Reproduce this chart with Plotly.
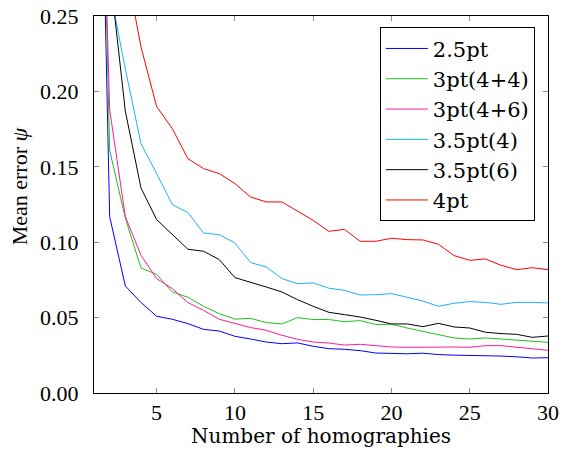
import plotly.graph_objects as go

homographies = list(range(1, 31))

err_2_5pt = [0.60, 0.117, 0.071, 0.060, 0.0509, 0.0489, 0.046, 0.0422, 0.0411, 0.0376,
             0.0358, 0.0338, 0.0327, 0.0332, 0.031, 0.0294, 0.029, 0.0281, 0.0265, 0.0261,
             0.026, 0.0264, 0.0255, 0.0251, 0.025, 0.0247, 0.0245, 0.024, 0.0232, 0.0234]
err_3pt_44 = [0.60, 0.161, 0.116, 0.0829, 0.0787, 0.067, 0.0635, 0.0575, 0.0526, 0.049,
              0.0495, 0.0467, 0.0458, 0.050, 0.0487, 0.0487, 0.0473, 0.048, 0.0454, 0.0456,
              0.0431, 0.0409, 0.0383, 0.0365, 0.0358, 0.0365, 0.0358, 0.035, 0.034, 0.0336]
err_3pt_46 = [0.55, 0.188, 0.117, 0.0913, 0.0759, 0.0692, 0.060, 0.0548, 0.0489, 0.046,
              0.0434, 0.0416, 0.0383, 0.0356, 0.0338, 0.0331, 0.0318, 0.0323, 0.0312, 0.0305,
              0.0303, 0.0305, 0.0307, 0.0305, 0.0303, 0.0314, 0.0314, 0.0305, 0.0294, 0.0283]
err_3_5pt_4 = [0.40, 0.268, 0.215, 0.1654, 0.1455, 0.125, 0.1196, 0.1061, 0.105, 0.0995,
               0.0865, 0.0836, 0.0759, 0.0725, 0.073, 0.0695, 0.0681, 0.065, 0.0652, 0.0659,
               0.0635, 0.061, 0.0575, 0.0595, 0.0606, 0.0601, 0.0588, 0.0601, 0.0601, 0.0597]
err_3_5pt_6 = [0.45, 0.28, 0.187, 0.136, 0.115, 0.105, 0.0953, 0.094, 0.0885, 0.0765,
               0.0736, 0.0703, 0.067, 0.0619, 0.0575, 0.0535, 0.052, 0.0504, 0.0482, 0.0458,
               0.0458, 0.044, 0.0462, 0.0438, 0.0431, 0.0403, 0.0394, 0.0389, 0.0369, 0.0378]
err_4pt = [0.45, 0.36, 0.285, 0.2295, 0.19, 0.1753, 0.1554, 0.1488, 0.1455, 0.1389,
           0.130, 0.1267, 0.1267, 0.1207, 0.1145, 0.1072, 0.1085, 0.1006, 0.1006, 0.1026,
           0.1017, 0.1015, 0.0986, 0.0911, 0.088, 0.0889, 0.0847, 0.0818, 0.0831, 0.0818]

series_names = ["2.5pt", "3pt(4+4)", "3pt(4+6)", "3.5pt(4)", "3.5pt(6)", "4pt"]
series_values = [err_2_5pt, err_3pt_44, err_3pt_46, err_3_5pt_4, err_3_5pt_6, err_4pt]
series_colors = ["#0000ff", "#1fc01f", "#ff1a9c", "#1ab4f0", "#000000", "#ff0000"]

x_ticks = [5, 10, 15, 20, 25, 30]
y_ticks = [0.0, 0.05, 0.10, 0.15, 0.20, 0.25]

FONT = "Liberation Serif, Times New Roman, serif"
WIDE = "DejaVu Serif, serif"

fig = go.Figure()
for name, vals, col in zip(series_names, series_values, series_colors):
    fig.add_trace(go.Scatter(x=homographies, y=vals, name=name, mode="lines",
                             line=dict(color=col, width=1)))

axis_common = dict(showline=True, linecolor="black", linewidth=1, mirror="ticks",
                   ticks="inside", ticklen=5, tickcolor="#8a8a8a", tickwidth=1,
                   showgrid=False, zeroline=False, automargin=False,
                   tickfont=dict(family=FONT, size=22, color="black"))

fig.update_layout(
    width=562, height=455,
    margin=dict(l=94, r=14, t=16, b=62, autoexpand=False),
    paper_bgcolor="white", plot_bgcolor="white",
    font=dict(family=FONT, size=22, color="black"),
    xaxis=dict(range=[1, 30], tickvals=x_ticks, ticktext=[str(v) for v in x_ticks],
               ticklabelstandoff=0, **axis_common),
    yaxis=dict(range=[0, 0.25], tickvals=y_ticks, ticktext=[f"{v:.2f}" for v in y_ticks],
               ticklabelstandoff=10, **axis_common),
    legend=dict(x=0.971, xanchor="right", y=0.970, yanchor="top",
                bgcolor="white", bordercolor="black", borderwidth=1,
                font=dict(family=WIDE, size=21, color="black"),
                itemwidth=42, tracegroupgap=0),
    showlegend=True,
    annotations=[
        dict(text="Number of homographies", xref="paper", yref="paper",
             x=0.5, y=-0.113, xanchor="center", yanchor="middle", showarrow=False,
             font=dict(family=WIDE, size=20, color="black")),
        dict(text="Mean error <i>ψ</i>", xref="paper", yref="paper",
             x=-0.164, y=0.547, xanchor="center", yanchor="middle", showarrow=False,
             textangle=-90, font=dict(family=FONT, size=22, color="black")),
    ],
)

fig.write_html("out.html", post_script="document.body.style.margin='0';",
               config={"displayModeBar": False})
